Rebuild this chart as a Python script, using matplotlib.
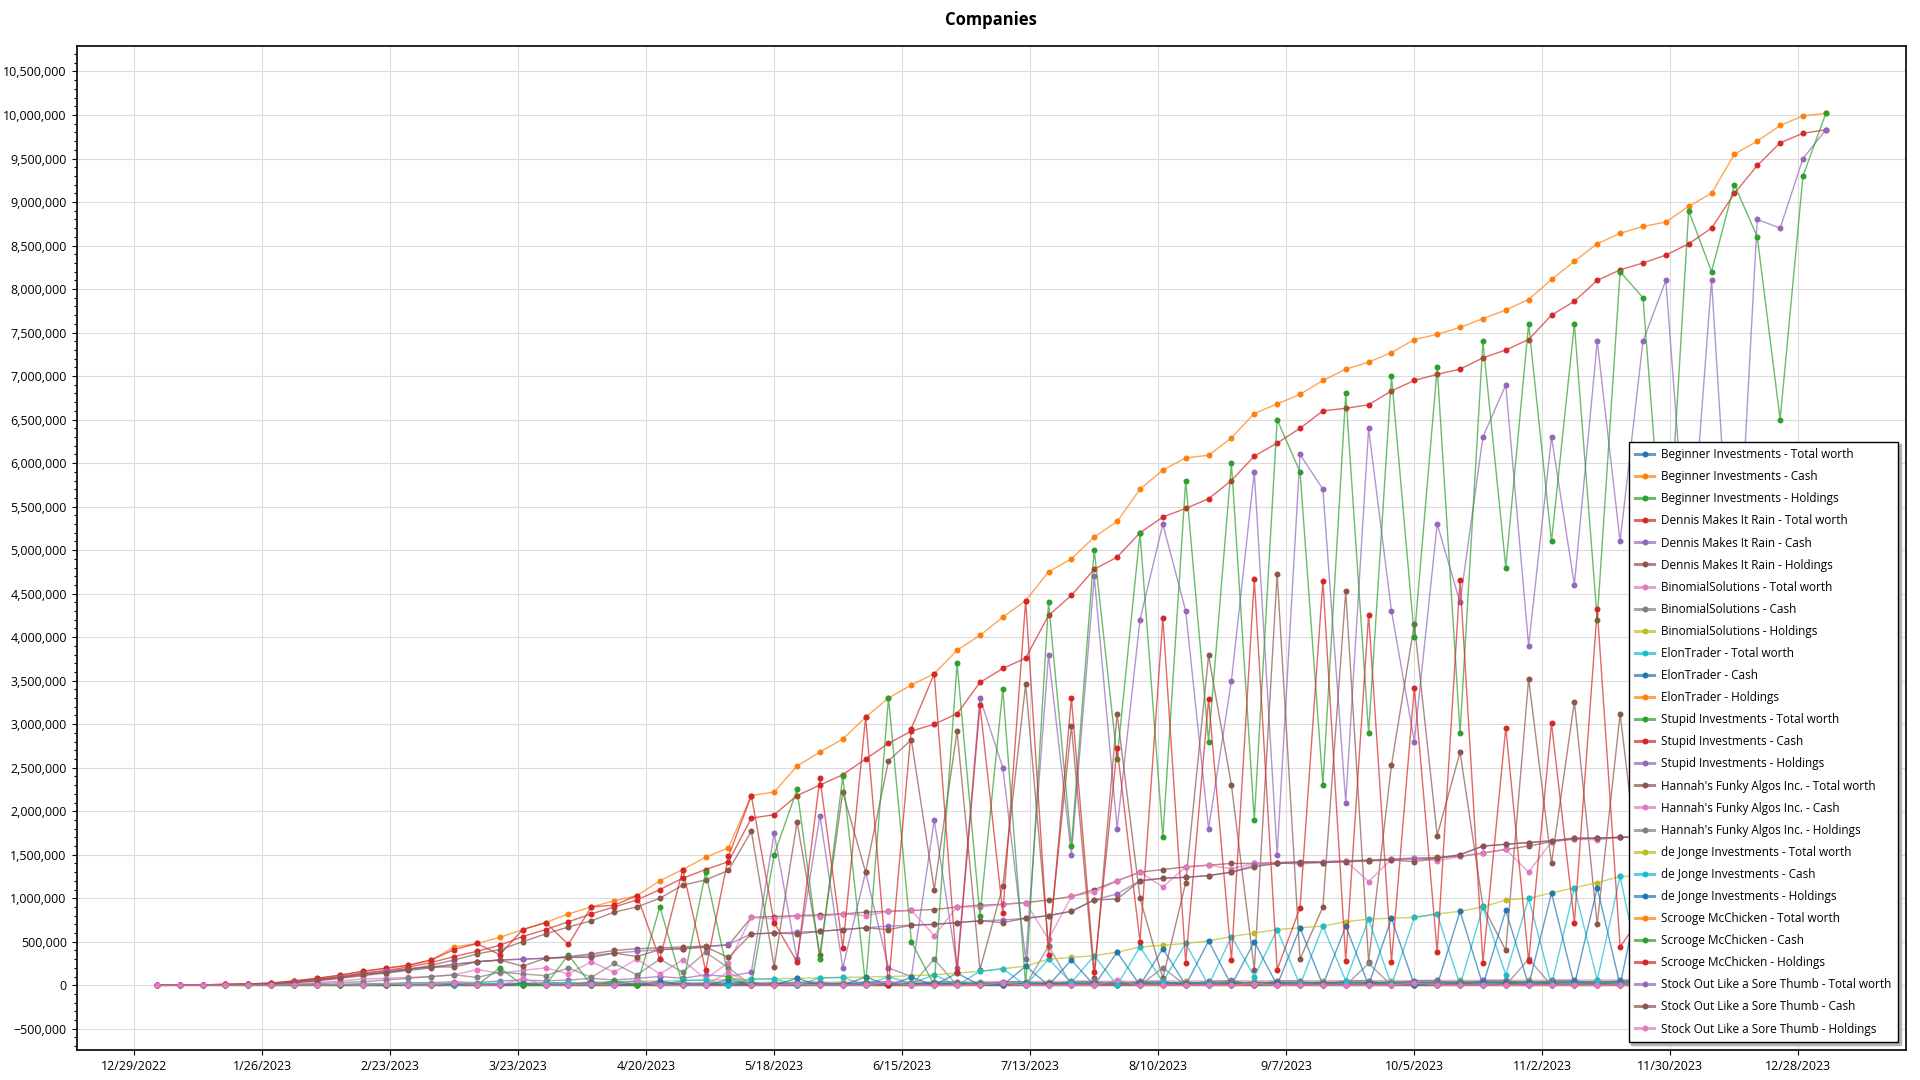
import numpy as np
import pandas as pd
import matplotlib
matplotlib.use("Agg")
import matplotlib.pyplot as plt
import matplotlib.ticker as mticker
from matplotlib.colors import to_rgba

plt.rcParams['font.family'] = ['Open Sans', 'DejaVu Sans']

# one snapshot every 5 days, all values in thousands
dates = pd.date_range('2023-01-03', periods=74, freq='5D')

beginner_total = [0, 0, 1, 1, 2, 2, 3, 4, 5, 5,
                  6, 7, 8, 8, 9, 10, 11, 11, 12, 13,
                  12, 14, 15, 14, 16, 17, 16, 18, 19, 18,
                  20, 21, 20, 22, 23, 22, 24, 25, 24, 26,
                  27, 26, 28, 29, 28, 30, 31, 30, 32, 33,
                  32, 34, 35, 34, 36, 37, 36, 38, 39, 38,
                  40, 41, 40, 42, 43, 42, 44, 45, 44, 46,
                  47, 46, 48, 49]
beginner_cash = [0, 0, 1, 1, 2, 2, 3, 4, 5, 5,
                 6, 7, 8, 8, 9, 10, 11, 11, 12, 13,
                 12, 14, 15, 14, 16, 17, 16, 18, 19, 18,
                 20, 21, 20, 22, 23, 22, 24, 25, 24, 26,
                 27, 26, 28, 29, 28, 30, 31, 30, 32, 33,
                 32, 34, 35, 34, 36, 37, 36, 38, 39, 38,
                 40, 41, 40, 42, 43, 42, 44, 45, 44, 46,
                 47, 46, 48, 49]
beginner_hold = [0] * 74

dennis_total = [0, 2, 5, 9, 14, 22, 45, 70, 100, 140,
                170, 210, 260, 330, 390, 460, 560, 640, 730, 820,
                900, 980, 1100, 1230, 1330, 1420, 1920, 1960, 2180, 2300,
                2420, 2600, 2780, 2920, 3000, 3120, 3480, 3640, 3760, 4250,
                4480, 4780, 4920, 5200, 5380, 5480, 5590, 5800, 6080, 6230,
                6400, 6600, 6630, 6670, 6830, 6950, 7020, 7080, 7210, 7300,
                7420, 7700, 7860, 8100, 8220, 8300, 8390, 8520, 8700, 9100,
                9420, 9680, 9790, 9830]
dennis_cash = [0, 0, 0, 0, 0, 0, 5, 10, 10, 20,
               20, 30, 30, 40, 30, 50, 60, 50, 60, 80,
               60, 80, 100, 80, 120, 100, 150, 1750, 300, 1950,
               200, 1300, 200, 100, 1900, 200, 3300, 2500, 300, 3800,
               1500, 4700, 1800, 4200, 5300, 4300, 1800, 3500, 5900, 1500,
               6100, 5700, 2100, 6400, 4300, 2800, 5300, 4400, 6300, 6900,
               3900, 6300, 4600, 7400, 5100, 7400, 8100, 4600, 8100, 3900,
               8800, 8700, 9500, 9830]
dennis_hold = [0, 2, 5, 9, 14, 22, 40, 60, 90, 120,
               150, 180, 230, 290, 360, 410, 500, 590, 670, 740,
               840, 900, 1000, 1150, 1210, 1320, 1770, 210, 1880, 350,
               2220, 1300, 2580, 2820, 1100, 2920, 180, 1140, 3460, 450,
               2980, 80, 3120, 1000, 80, 1180, 3790, 2300, 180, 4730,
               300, 900, 4530, 270, 2530, 4150, 1720, 2680, 910, 400,
               3520, 1400, 3260, 700, 3120, 900, 290, 3920, 600, 5200,
               620, 980, 290, 0]

binomial_total = [0, 0, 0, 0, 1, 2, 3, 4, 6, 8,
                  10, 12, 14, 15, 17, 18, 20, 21, 22, 24,
                  25, 26, 27, 28, 30, 31, 32, 33, 34, 35,
                  36, 37, 38, 38, 39, 40, 41, 42, 42, 43,
                  44, 45, 45, 46, 47, 48, 48, 49, 50, 50,
                  51, 52, 52, 53, 54, 54, 55, 55, 56, 57,
                  57, 58, 58, 59, 59, 60, 60, 61, 61, 62,
                  62, 63, 63, 64]
binomial_cash = [0, 0, 0, 0, 1, 2, 0, 4, 6, 0,
                 10, 12, 0, 15, 17, 0, 20, 21, 0, 24,
                 25, 0, 27, 28, 0, 31, 32, 0, 34, 35,
                 0, 37, 38, 0, 39, 40, 0, 42, 42, 0,
                 44, 45, 0, 46, 47, 0, 48, 49, 0, 50,
                 51, 0, 52, 53, 0, 54, 55, 0, 56, 57,
                 0, 58, 58, 0, 59, 60, 0, 61, 61, 0,
                 62, 63, 0, 64]
binomial_hold = [0, 0, 0, 0, 0, 0, 3, 0, 0, 8,
                 0, 0, 14, 0, 0, 18, 0, 0, 22, 0,
                 0, 26, 0, 0, 30, 0, 0, 33, 0, 0,
                 36, 0, 0, 38, 0, 0, 41, 0, 0, 43,
                 0, 0, 45, 0, 0, 48, 0, 0, 50, 0,
                 0, 52, 0, 0, 54, 0, 0, 55, 0, 0,
                 57, 0, 0, 59, 0, 0, 60, 0, 0, 62,
                 0, 0, 63, 0]

elon_total = [0, 0, 0, 1, 1, 2, 2, 3, 3, 4,
              5, 5, 6, 6, 7, 8, 8, 9, 10, 10,
              11, 11, 12, 13, 13, 14, 15, 15, 16, 16,
              17, 18, 18, 19, 19, 20, 21, 21, 22, 22,
              23, 24, 24, 25, 25, 26, 26, 27, 28, 28,
              29, 29, 30, 30, 31, 32, 32, 33, 33, 34,
              34, 35, 36, 36, 37, 37, 38, 38, 39, 40,
              40, 41, 41, 42]
elon_cash = [0, 0, 0, 1, 1, 2, 2, 3, 3, 4,
             5, 5, 6, 6, 7, 8, 8, 9, 10, 10,
             11, 11, 12, 13, 13, 14, 15, 15, 16, 16,
             17, 18, 18, 19, 19, 20, 21, 21, 22, 22,
             23, 24, 24, 25, 25, 26, 26, 27, 28, 28,
             29, 29, 30, 30, 31, 32, 32, 33, 33, 34,
             34, 35, 36, 36, 37, 37, 38, 38, 39, 40,
             40, 41, 41, 42]
elon_hold = [0] * 74

stupid_total = [0, 0, 0, 0, 0, 1, 1, 1, 2, 2,
                2, 3, 3, 3, 4, 4, 4, 5, 5, 5,
                6, 6, 6, 7, 7, 7, 8, 8, 8, 9,
                9, 9, 10, 10, 10, 11, 11, 11, 12, 12,
                12, 13, 13, 13, 14, 14, 14, 15, 15, 15,
                16, 16, 16, 17, 17, 17, 18, 18, 18, 19,
                19, 19, 20, 20, 20, 21, 21, 21, 22, 22,
                22, 23, 23, 23]
stupid_cash = [0, 0, 0, 0, 0, 1, 0, 1, 0, 2,
               0, 3, 0, 3, 0, 4, 0, 5, 0, 5,
               0, 6, 0, 7, 0, 7, 0, 8, 0, 9,
               0, 9, 0, 10, 0, 11, 0, 11, 0, 12,
               0, 13, 0, 13, 0, 14, 0, 15, 0, 15,
               0, 16, 0, 17, 0, 17, 0, 18, 0, 19,
               0, 19, 0, 20, 0, 21, 0, 21, 0, 22,
               0, 23, 0, 23]
stupid_hold = [0, 0, 0, 0, 0, 0, 1, 0, 2, 0,
               2, 0, 3, 0, 4, 0, 4, 0, 5, 0,
               6, 0, 6, 0, 7, 0, 8, 0, 8, 0,
               9, 0, 10, 0, 10, 0, 11, 0, 12, 0,
               12, 0, 13, 0, 14, 0, 14, 0, 15, 0,
               16, 0, 16, 0, 17, 0, 18, 0, 18, 0,
               19, 0, 20, 0, 20, 0, 21, 0, 22, 0,
               22, 0, 23, 0]

hannah_total = [0, 1, 2, 4, 8, 15, 30, 50, 80, 110,
                140, 170, 200, 240, 270, 290, 300, 310, 330, 360,
                400, 420, 430, 440, 450, 460, 780, 790, 800, 810,
                820, 840, 850, 860, 870, 900, 920, 930, 950, 980,
                1020, 1100, 1200, 1300, 1330, 1360, 1380, 1400, 1400, 1410,
                1420, 1420, 1430, 1440, 1450, 1460, 1470, 1480, 1520, 1560,
                1600, 1650, 1680, 1690, 1700, 1700, 1710, 1710, 1715, 1720,
                1720, 1720, 1725, 1725]
hannah_cash = [0, 1, 2, 4, 8, 10, 20, 30, 50, 70,
               80, 90, 100, 120, 180, 140, 170, 200, 130, 270,
               150, 300, 130, 290, 70, 260, 780, 760, 800, 790,
               820, 800, 850, 860, 570, 900, 900, 930, 950, 530,
               1020, 1070, 1200, 1300, 1130, 1360, 1380, 1340, 1400, 1410,
               1390, 1420, 1430, 1190, 1450, 1460, 1430, 1480, 1520, 1560,
               1300, 1650, 1680, 1670, 1700, 1700, 1710, 1650, 1715, 1720,
               1720, 1720, 1725, 1725]
hannah_hold = [0, 0, 0, 0, 0, 5, 10, 20, 30, 40,
               60, 80, 100, 120, 90, 150, 130, 110, 200, 90,
               250, 120, 300, 150, 380, 200, 0, 30, 0, 20,
               0, 40, 0, 0, 300, 0, 20, 0, 0, 450,
               0, 30, 0, 0, 200, 0, 0, 60, 0, 0,
               30, 0, 0, 250, 0, 0, 40, 0, 0, 0,
               300, 0, 0, 20, 0, 0, 0, 60, 0, 0,
               0, 0, 0, 0]

dejonge_total = [0, 0, 0, 0, 0, 1, 2, 3, 5, 8,
                 10, 12, 15, 18, 20, 22, 25, 28, 30, 35,
                 40, 45, 50, 55, 60, 65, 70, 75, 80, 85,
                 90, 95, 100, 110, 120, 140, 160, 190, 220, 300,
                 320, 340, 380, 440, 460, 480, 510, 560, 600, 640,
                 660, 680, 730, 760, 770, 780, 820, 850, 900, 980,
                 1000, 1060, 1120, 1180, 1250, 1260, 1270, 1280, 1285, 1290,
                 1290, 1295, 1300, 1300]
dejonge_cash = [0, 0, 0, 0, 0, 1, 2, 3, 5, 8,
                10, 12, 15, 0, 20, 22, 0, 28, 30, 0,
                40, 45, 0, 55, 60, 0, 70, 75, 0, 85,
                90, 0, 100, 20, 120, 0, 160, 190, 0, 300,
                30, 340, 0, 440, 40, 480, 0, 560, 100, 640,
                0, 680, 50, 760, 0, 780, 820, 0, 900, 120,
                1000, 0, 1120, 60, 1250, 0, 1270, 200, 1285, 0,
                1290, 0, 1300, 0]
dejonge_hold = [0, 0, 0, 0, 0, 0, 0, 0, 0, 0,
                0, 0, 0, 18, 0, 0, 25, 0, 0, 35,
                0, 0, 50, 0, 0, 65, 0, 0, 80, 0,
                0, 95, 0, 90, 0, 140, 0, 0, 220, 0,
                290, 0, 380, 0, 420, 0, 510, 0, 500, 0,
                660, 0, 680, 0, 770, 0, 0, 850, 0, 860,
                0, 1060, 0, 1120, 0, 1260, 0, 1080, 0, 1290,
                0, 1295, 0, 1300]

scrooge_total = [0, 2, 5, 10, 15, 25, 50, 80, 115, 160,
                 195, 230, 290, 440, 480, 550, 640, 720, 820, 900,
                 970, 1030, 1200, 1330, 1470, 1580, 2180, 2220, 2520, 2680,
                 2830, 3080, 3300, 3450, 3580, 3850, 4020, 4230, 4420, 4750,
                 4900, 5150, 5330, 5700, 5920, 6060, 6090, 6290, 6570, 6680,
                 6790, 6950, 7080, 7160, 7270, 7420, 7480, 7560, 7660, 7760,
                 7880, 8110, 8320, 8520, 8640, 8720, 8770, 8950, 9100, 9550,
                 9700, 9880, 9990, 10020]
scrooge_cash = [0, 0, 0, 0, 0, 0, 0, 0, 0, 0,
                0, 0, 0, 30, 0, 200, 0, 0, 350, 0,
                50, 0, 900, 0, 1300, 100, 0, 1500, 2250, 300,
                2400, 0, 3300, 500, 0, 3700, 800, 3400, 0, 4400,
                1600, 5000, 2600, 5200, 1700, 5800, 2800, 6000, 1900, 6500,
                5900, 2300, 6800, 2900, 7000, 4000, 7100, 2900, 7400, 4800,
                7600, 5100, 7600, 4200, 8200, 7900, 4500, 8900, 8200, 9200,
                8600, 6500, 9300, 10020]
scrooge_hold = [0, 2, 5, 10, 15, 25, 50, 80, 115, 160,
                195, 230, 290, 410, 480, 350, 640, 720, 470, 900,
                920, 1030, 300, 1330, 170, 1480, 2180, 720, 270, 2380,
                430, 3080, 0, 2950, 3580, 150, 3220, 830, 4420, 350,
                3300, 150, 2730, 500, 4220, 260, 3290, 290, 4670, 180,
                890, 4650, 280, 4260, 270, 3420, 380, 4660, 260, 2960,
                280, 3010, 720, 4320, 440, 820, 4270, 50, 900, 350,
                1100, 3380, 690, 0]

stockout_total = [0, 1, 3, 6, 10, 18, 35, 60, 95, 130,
                  165, 190, 210, 240, 270, 290, 300, 310, 320, 340,
                  370, 390, 410, 420, 440, 470, 590, 600, 610, 620,
                  640, 660, 680, 690, 700, 720, 740, 750, 770, 800,
                  850, 980, 1050, 1200, 1230, 1240, 1260, 1300, 1380, 1400,
                  1410, 1410, 1420, 1430, 1440, 1450, 1460, 1500, 1600, 1620,
                  1640, 1660, 1690, 1690, 1700, 1700, 1705, 1710, 1715, 1720,
                  1720, 1720, 1725, 1725]
stockout_cash = [0, 1, 3, 6, 10, 18, 30, 60, 85, 130,
                 145, 190, 210, 210, 270, 290, 220, 310, 320, 320,
                 370, 330, 410, 420, 440, 320, 590, 600, 590, 620,
                 640, 660, 640, 690, 700, 720, 740, 720, 770, 800,
                 850, 980, 990, 1200, 1230, 1240, 1260, 1300, 1360, 1400,
                 1410, 1410, 1420, 1430, 1440, 1420, 1460, 1500, 1600, 1620,
                 1640, 1660, 1690, 1690, 1700, 1700, 1685, 1710, 1715, 1720,
                 1720, 1720, 1725, 1725]
stockout_hold = [0, 0, 0, 0, 0, 0, 5, 0, 10, 0,
                 20, 0, 0, 30, 0, 0, 80, 0, 0, 20,
                 0, 60, 0, 0, 0, 150, 0, 0, 20, 0,
                 0, 0, 40, 0, 0, 0, 0, 30, 0, 0,
                 0, 0, 60, 0, 0, 0, 0, 0, 20, 0,
                 0, 0, 0, 0, 0, 30, 0, 0, 0, 0,
                 0, 0, 0, 0, 0, 0, 20, 0, 0, 0,
                 0, 0, 0, 0]

series = [
    ('Beginner Investments - Total worth', beginner_total),
    ('Beginner Investments - Cash', beginner_cash),
    ('Beginner Investments - Holdings', beginner_hold),
    ('Dennis Makes It Rain - Total worth', dennis_total),
    ('Dennis Makes It Rain - Cash', dennis_cash),
    ('Dennis Makes It Rain - Holdings', dennis_hold),
    ('BinomialSolutions - Total worth', binomial_total),
    ('BinomialSolutions - Cash', binomial_cash),
    ('BinomialSolutions - Holdings', binomial_hold),
    ('ElonTrader - Total worth', elon_total),
    ('ElonTrader - Cash', elon_cash),
    ('ElonTrader - Holdings', elon_hold),
    ('Stupid Investments - Total worth', stupid_total),
    ('Stupid Investments - Cash', stupid_cash),
    ('Stupid Investments - Holdings', stupid_hold),
    ("Hannah's Funky Algos Inc. - Total worth", hannah_total),
    ("Hannah's Funky Algos Inc. - Cash", hannah_cash),
    ("Hannah's Funky Algos Inc. - Holdings", hannah_hold),
    ('de Jonge Investments - Total worth', dejonge_total),
    ('de Jonge Investments - Cash', dejonge_cash),
    ('de Jonge Investments - Holdings', dejonge_hold),
    ('Scrooge McChicken - Total worth', scrooge_total),
    ('Scrooge McChicken - Cash', scrooge_cash),
    ('Scrooge McChicken - Holdings', scrooge_hold),
    ('Stock Out Like a Sore Thumb - Total worth', stockout_total),
    ('Stock Out Like a Sore Thumb - Cash', stockout_cash),
    ('Stock Out Like a Sore Thumb - Holdings', stockout_hold),
]

tab = plt.rcParams['axes.prop_cycle'].by_key()['color']

fig = plt.figure(figsize=(19.2, 10.8), dpi=100)
ax = fig.add_axes([76.5 / 1920, 30 / 1080, 1829 / 1920, 1004 / 1080])

for i, (name, vals) in enumerate(series):
    c = tab[i % 10]
    ax.plot(dates, np.array(vals) * 1000, '-o', color=to_rgba(c, 0.7),
            mfc=c, mec=c, mew=0, ms=4.3, lw=1.0, label=name)

# x axis: ticks every 4 weeks
xticks = pd.date_range('2022-12-29', periods=14, freq='28D')
ax.set_xticks(xticks)
ax.set_xticklabels([f'{d.month}/{d.day}/{d.year}' for d in xticks])
ax.set_xlim(pd.Timestamp('2022-12-16 10:00'), pd.Timestamp('2024-01-20 10:00'))

ax.set_ylim(-744000, 10793000)
ax.yaxis.set_major_locator(mticker.MultipleLocator(500000))
ax.yaxis.set_minor_locator(mticker.MultipleLocator(100000))
ax.yaxis.set_major_formatter(mticker.StrMethodFormatter('{x:,.0f}'))

ax.tick_params(axis='both', labelsize=9, colors='black', length=3.5, width=0.8)
ax.tick_params(axis='y', which='minor', length=2, width=0.8)
ax.grid(True, color='#dcdcdc', lw=0.8)
ax.set_axisbelow(True)
for sp in ax.spines.values():
    sp.set_linewidth(1.2)
    sp.set_color('black')

fig.text(991 / 1920, 1 - 20 / 1080, 'Companies', ha='center', va='center',
         fontsize=12, fontweight='bold')

leg = ax.legend(loc='lower right', bbox_to_anchor=(1898 / 1920, 38 / 1080),
                bbox_transform=fig.transFigure, borderaxespad=0, fontsize=8.5,
                fancybox=False, edgecolor='black', framealpha=1,
                labelspacing=0.77, handlelength=1.6, handletextpad=0.6,
                borderpad=0.55, shadow={'color': '#b4b4b4', 'alpha': 1})
leg.get_frame().set_linewidth(1.0)
for h in leg.get_lines():
    h.set_linewidth(2.2)

fig.savefig('out.png', dpi=100)
